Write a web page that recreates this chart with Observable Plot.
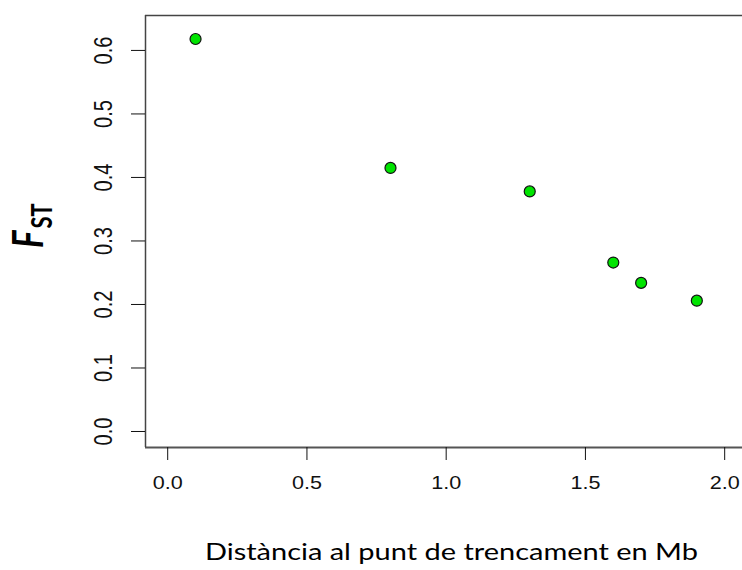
<!DOCTYPE html>
<html>
<head>
<meta charset="utf-8">
<script src="https://cdn.jsdelivr.net/npm/d3@7"></script>
<script src="https://cdn.jsdelivr.net/npm/@observablehq/plot@0.6"></script>
<style>
  html, body { margin: 0; padding: 0; background: #fff; }
  #chart svg { display: block; }
</style>
</head>
<body>
<div id="chart"></div>
<script>
// Data
const distanceMb = [0.1, 0.8, 1.3, 1.6, 1.7, 1.9];
const fstValues = [0.618, 0.415, 0.378, 0.266, 0.234, 0.206];
const xTicks = [0, 0.5, 1.0, 1.5, 2.0];
const yTicks = [0, 0.1, 0.2, 0.3, 0.4, 0.5, 0.6];
const xTitle = "Distància al punt de trencament en Mb";

const data = distanceMb.map((d, i) => ({x: d, y: fstValues[i]}));
const xDomain = [-0.0797, 2.064];
const yDomain = [-0.0252, 0.655];

const chart = Plot.plot({
  width: 742,
  height: 570,
  marginLeft: 145,
  marginRight: 0,
  marginTop: 15,
  marginBottom: 123,
  style: {background: "#fff", fontFamily: "'Liberation Sans', Arial, sans-serif", fontSize: "18px"},
  x: {domain: xDomain},
  y: {domain: yDomain},
  marks: [
    Plot.ruleY([yDomain[1]], {stroke: "#444", strokeWidth: 1.5}),
    Plot.ruleY([yDomain[0]], {stroke: "#555", strokeWidth: 1.8}),
    Plot.ruleX([xDomain[0]], {stroke: "#444", strokeWidth: 1.5}),
    Plot.axisX({ticks: xTicks, tickSize: 13, tickFormat: () => "", label: null, stroke: "#111"}),
    Plot.text(xTicks, {x: d => d, text: d => d.toFixed(1), frameAnchor: "bottom", dy: 36,
      textAnchor: "middle", lineAnchor: "middle", fontSize: 18, fill: "#111",
      className: "xlab"}),
    Plot.axisY({ticks: yTicks, tickSize: 14, tickFormat: () => "", label: null, stroke: "#111"}),
    Plot.text(yTicks, {y: d => d, text: d => d.toFixed(1), frameAnchor: "left", dx: -42,
      rotate: -90, textAnchor: "middle", lineAnchor: "middle", fontSize: 18, fill: "#111",
      className: "ylab"}),
    Plot.dot(data, {x: "x", y: "y", r: 5.5, fill: "#00e400", stroke: "#111", strokeWidth: 1.2})
  ]
});

document.getElementById("chart").appendChild(chart);

const svg = d3.select(chart);
// the reference is stretched horizontally: widen the tick labels the same way
svg.selectAll(".xlab text").each(function() {
  const w = this.getComputedTextLength();
  this.setAttribute("textLength", (w * 1.2).toFixed(1));
  this.setAttribute("lengthAdjust", "spacingAndGlyphs");
});
svg.selectAll(".ylab text").each(function() {
  const t = this.getAttribute("transform") || "";
  this.setAttribute("transform", t + " scale(1.12,1.45)");
});

// Y axis title: F_ST
const yt = svg.append("text")
  .attr("transform", "translate(43,248) rotate(-90) scale(1,1.3)")
  .attr("text-anchor", "start")
  .attr("font-family", "Lato, 'Open Sans', sans-serif")
  .attr("fill", "#000");
yt.append("tspan").attr("font-size", 33).attr("font-weight", "bold").attr("font-style", "italic").text("F");
yt.append("tspan").attr("font-size", 22).attr("font-weight", "bold").attr("dy", 7).attr("dx", 2).text("ST");

// X axis title
svg.append("text")
  .attr("x", 205)
  .attr("y", 560)
  .attr("text-anchor", "start")
  .attr("font-family", "Lato, 'Open Sans', sans-serif")
  .attr("font-size", 23)
  .attr("fill", "#000")
  .attr("textLength", 493)
  .attr("lengthAdjust", "spacingAndGlyphs")
  .text(xTitle);
</script>
</body>
</html>
